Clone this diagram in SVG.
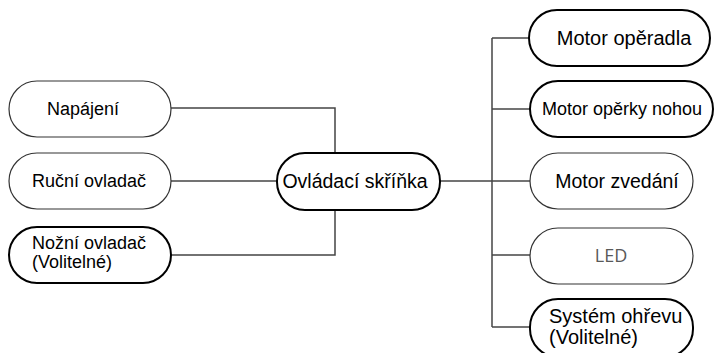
<svg xmlns="http://www.w3.org/2000/svg" width="717" height="353" viewBox="0 0 717 353">
<style>
.thin{fill:#fff;stroke:#333;stroke-width:1.2}
.thick{fill:#fff;stroke:#000;stroke-width:2}
.t{font-family:"Liberation Sans",Arial,sans-serif;font-size:18px;fill:#000}
.led{font-family:"Open Sans","Noto Sans",sans-serif;font-size:18px;fill:#595959}
.c{fill:none;stroke:#444;stroke-width:1.5}
</style>
<rect width="717" height="353" fill="#fff"/>
<g id="connectors">
<path class="c" d="M171 108H335V153"/>
<path class="c" d="M171 181H277"/>
<path class="c" d="M171 255H335V210"/>
<path class="c" d="M440 181H530"/>
<path class="c" d="M492 38V327"/>
<path class="c" d="M492 38H529"/>
<path class="c" d="M492 109H530"/>
<path class="c" d="M492 255H530"/>
<path class="c" d="M492 327H530"/>
</g>
<g id="napajeni">
<rect class="thin" x="9" y="81" width="162" height="56" rx="28"/>
<text class="t" x="83" y="115" text-anchor="middle">Napájení</text>
</g>
<g id="rucni">
<rect class="thin" x="9" y="153" width="162" height="56" rx="28"/>
<text class="t" x="89" y="187" text-anchor="middle">Ruční ovladač</text>
</g>
<g id="nozni">
<rect class="thick" x="9" y="227" width="162" height="56" rx="28"/>
<text class="t" x="32" y="249">Nožní ovladač</text>
<text class="t" x="32" y="268">(Volitelné)</text>
</g>
<g id="ovladaci">
<rect class="thick" x="277" y="153" width="163" height="57" rx="28"/>
<text class="t" x="355" y="188" text-anchor="middle" style="font-size:19.5px">Ovládací skříňka</text>
</g>
<g id="operadla">
<rect class="thick" x="529" y="10" width="181" height="56" rx="28"/>
<text class="t" x="624" y="45" text-anchor="middle" style="font-size:20px">Motor opěradla</text>
</g>
<g id="operky">
<rect class="thick" x="530" y="81" width="183" height="56" rx="28"/>
<text class="t" x="622" y="115" text-anchor="middle">Motor opěrky nohou</text>
</g>
<g id="zvedani">
<rect class="thin" x="530" y="153" width="163" height="56" rx="28"/>
<text class="t" x="617" y="188" text-anchor="middle" style="font-size:19.5px">Motor zvedání</text>
</g>
<g id="led">
<rect class="thin" x="530" y="228" width="163" height="56" rx="28"/>
<text class="led" x="611" y="262" text-anchor="middle">LED</text>
</g>
<g id="ohrev">
<rect class="thick" x="530" y="299" width="163" height="58" rx="28"/>
<text class="t" x="549" y="323" style="font-size:20px">Systém ohřevu</text>
<text class="t" x="549" y="344" style="font-size:20px">(Volitelné)</text>
</g>
</svg>
